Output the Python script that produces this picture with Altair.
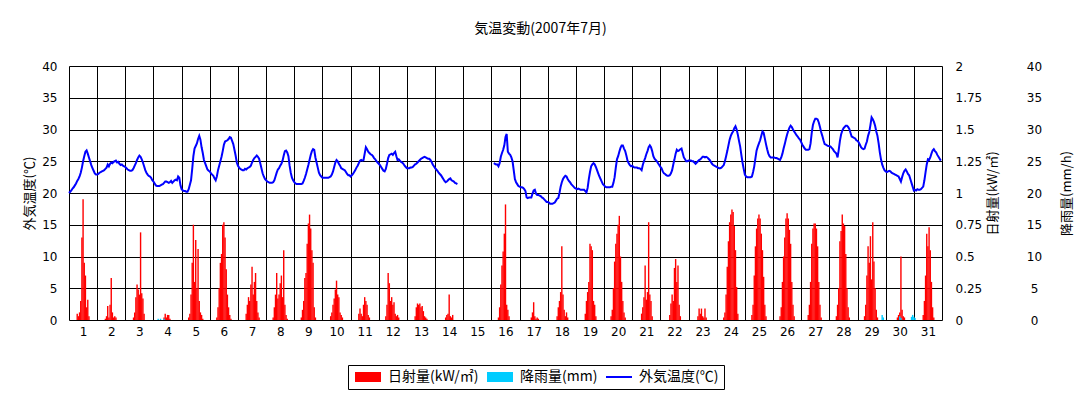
import altair as alt
import pandas as pd

TITLE = "気温変動(2007年7月)"
DAYS = list(range(1, 32))

# hourly outside temperature (°C), hour 0..23 of each day; None = missing
TEMP = {
    1: [20.0, 20.2, 20.4, 20.7, 20.9, 21.2, 21.5, 21.9, 22.2, 22.6, 23.2, 24.0, 25.0, 25.8, 26.5, 26.7, 26.2, 25.6, 25.0, 24.4, 23.9, 23.5, 23.1, 22.9],
    2: [22.9, 23.0, 23.2, 23.3, 23.4, 23.5, 23.6, 23.8, 24.0, 24.5, 24.2, 24.6, 24.8, 24.7, 24.9, 25.0, 25.1, 24.8, 24.9, 24.6, 24.4, 24.5, 24.3, 24.2],
    3: [24.1, 23.9, 23.7, 23.6, 23.5, 23.5, 23.6, 23.9, 24.3, 24.7, 25.2, 25.6, 25.9, 25.7, 25.3, 24.8, 24.2, 23.6, 23.2, 22.9, 22.7, 22.6, 22.4, 22.0],
    4: [21.8, 21.5, 21.2, 21.1, 21.1, 21.1, 21.2, 21.3, 21.4, 21.6, 21.8, 21.8, 21.7, 21.6, 21.7, 21.9, 21.6, 21.8, 22.0, 22.1, 22.0, 22.6, 22.4, 21.2],
    5: [20.6, 20.4, 20.3, 20.3, 20.2, 20.2, 20.6, 21.3, 22.0, 23.8, 25.8, 27.0, 27.4, 27.8, 28.5, 29.0, 28.4, 27.2, 26.3, 25.2, 24.7, 24.2, 23.7, 23.5],
    6: [23.4, 23.1, 22.9, 22.7, 22.3, 22.0, 22.6, 23.6, 24.3, 25.0, 25.7, 26.6, 27.6, 28.1, 28.2, 28.3, 28.5, 28.8, 28.7, 28.2, 27.7, 26.8, 25.9, 24.8],
    7: [24.3, 24.0, 23.8, 23.7, 23.6, 23.6, 23.8, 23.7, 23.9, 24.0, 24.1, 24.3, 24.8, 25.2, 25.5, 25.7, 25.9, 25.7, 25.4, 24.7, 23.9, 23.1, 22.6, 22.2],
    8: [22.0, 21.8, 21.7, 21.6, 21.6, 21.6, 21.7, 22.0, 22.6, 23.2, 23.7, 23.9, 24.3, 24.6, 25.1, 25.9, 26.6, 26.7, 26.4, 25.8, 24.3, 23.2, 22.4, 22.0],
    9: [21.7, 21.5, 21.4, 21.4, 21.4, 21.4, 21.4, 21.5, 21.9, 22.4, 23.0, 23.7, 24.4, 25.2, 26.0, 26.6, 26.9, 26.8, 25.6, 24.8, 24.0, 23.2, 22.8, 22.6],
    10: [22.4, 22.4, 22.4, 22.4, 22.4, 22.4, 22.5, 22.6, 22.9, 23.4, 24.1, 24.8, 25.2, 25.0, 24.6, 24.3, 23.9, 23.8, 23.7, 23.6, 23.3, 23.0, 22.8, 22.8],
    11: [22.6, 22.8, 23.0, 23.3, 23.6, 24.0, 24.3, 24.7, 25.1, 25.2, 25.1, 25.2, 26.2, 27.2, 26.9, 26.5, 26.3, 26.1, 26.0, 25.8, 25.5, 25.3, 25.0, 24.8],
    12: [24.6, 24.4, 24.1, 23.8, 23.5, 23.4, 23.8, 24.6, 25.5, 26.0, 26.1, 26.2, 26.0, 26.3, 26.5, 25.8, 25.2, 25.3, 25.1, 24.9, 24.8, 24.6, 24.3, 24.1],
    13: [23.9, 23.9, 23.9, 24.0, 24.0, 24.1, 24.3, 24.5, 24.6, 24.8, 25.0, 25.2, 25.4, 25.5, 25.6, 25.7, 25.6, 25.5, 25.4, 25.4, 25.2, 24.9, 24.5, 24.2],
    14: [23.9, 23.7, 23.5, 23.2, 23.0, 22.8, 22.5, 22.2, 21.9, 21.7, 21.8, 22.0, 22.2, 22.3, 22.0, 21.9, 21.8, 21.6, 21.5, 21.4, None, None, None, None],
    16: [None, None, 24.7, 24.6, 24.5, 24.5, 24.2, 24.7, 25.7, 26.3, 26.8, 27.5, 28.8, 29.3, 26.5, 26.2, 26.0, 25.6, 25.0, 23.6, 22.2, 21.7, 21.4, 21.1],
    17: [21.0, 20.9, 20.9, 20.8, 20.6, 20.3, 19.3, 19.2, 19.3, 19.3, 19.3, 19.9, 20.4, 20.5, 19.9, 19.7, 19.7, 19.6, 19.5, 19.3, 19.2, 19.0, 18.8, 18.6],
    18: [18.6, 18.5, 18.3, 18.3, 18.3, 18.4, 18.5, 18.8, 19.1, 19.2, 20.0, 21.0, 21.7, 22.2, 22.5, 22.7, 22.6, 22.2, 21.9, 21.7, 21.4, 21.2, 21.0, 20.8],
    19: [20.7, 20.6, 20.7, 20.6, 20.5, 20.5, 20.5, 20.5, 20.3, 20.1, 20.8, 22.2, 23.3, 24.2, 24.5, 24.7, 24.5, 24.1, 23.6, 23.1, 22.6, 22.2, 21.8, 21.4],
    20: [21.2, 21.0, 20.9, 20.9, 20.9, 20.9, 21.0, 21.0, 21.6, 22.5, 24.0, 25.3, 25.8, 26.5, 27.1, 27.5, 27.5, 27.0, 26.6, 25.9, 25.1, 24.7, 24.4, 24.2],
    21: [24.3, 24.1, 24.0, 24.0, 24.0, 23.9, 23.9, 23.8, 23.6, 24.4, 25.0, 25.5, 26.1, 26.6, 27.2, 27.5, 27.2, 26.6, 25.8, 25.4, 25.2, 25.0, 24.7, 24.4],
    22: [24.1, 23.9, 23.4, 23.1, 23.0, 22.8, 22.7, 22.7, 22.8, 23.1, 23.6, 24.5, 25.3, 26.2, 26.8, 26.6, 26.7, 26.9, 27.0, 26.3, 25.6, 25.3, 25.0, 25.0],
    23: [25.1, 25.1, 25.1, 25.0, 25.0, 24.8, 24.6, 24.8, 25.0, 25.2, 25.3, 25.5, 25.7, 25.7, 25.6, 25.7, 25.6, 25.4, 25.2, 24.9, 24.6, 24.4, 24.3, 24.2],
    24: [24.1, 24.0, 23.9, 23.9, 24.0, 24.2, 24.4, 25.0, 25.8, 26.6, 27.5, 28.4, 29.0, 29.4, 29.7, 30.2, 30.5, 30.0, 29.2, 28.2, 27.3, 26.0, 24.8, 23.8],
    25: [22.9, 22.6, 22.5, 22.5, 22.5, 22.5, 22.6, 23.3, 24.2, 25.5, 26.7, 27.3, 27.8, 28.3, 29.0, 29.7, 29.5, 28.6, 27.7, 26.9, 26.2, 25.8, 25.6, 25.6],
    26: [25.6, 25.6, 25.5, 25.5, 25.4, 25.3, 25.2, 25.6, 26.2, 27.0, 27.7, 28.5, 29.2, 29.8, 30.3, 30.6, 30.4, 30.0, 29.7, 29.4, 29.1, 28.9, 28.6, 28.4],
    27: [28.0, 27.6, 27.3, 27.0, 26.8, 26.8, 26.8, 26.9, 27.8, 29.5, 30.7, 31.3, 31.7, 31.7, 31.6, 31.1, 30.4, 29.6, 29.0, 28.3, 27.7, 27.6, 27.5, 27.4],
    28: [27.4, 27.3, 27.1, 26.9, 26.6, 26.4, 26.2, 25.6, 26.8, 28.2, 29.2, 29.8, 30.2, 30.4, 30.6, 30.6, 30.4, 30.1, 29.5, 28.9, 28.8, 28.7, 28.6, 28.3],
    29: [28.2, 28.0, 27.6, 27.2, 27.0, 26.9, 27.0, 27.6, 28.1, 29.0, 29.6, 30.7, 31.9, 31.6, 31.2, 30.6, 29.7, 29.0, 27.8, 26.4, 25.3, 24.5, 24.0, 23.6],
    30: [23.4, 23.3, 23.4, 23.5, 23.4, 23.2, 23.1, 23.0, 22.9, 22.8, 22.7, 22.6, 22.2, 21.8, 22.5, 23.1, 23.5, 23.7, 23.4, 23.0, 22.8, 22.2, 21.6, 21.0],
    31: [20.4, 20.5, 20.4, 20.6, 20.5, 20.5, 20.6, 20.8, 21.0, 22.0, 23.3, 24.5, 25.3, 25.2, 25.6, 26.2, 26.7, 26.9, 26.6, 26.4, 26.0, 25.7, 25.4, 25.1],
}

# hourly solar radiation (kW/m2): day -> (first hour, values)
SOLAR = {
    1: (7, [0.05, 0.03, 0.06, 0.15, 0.65, 0.95, 0.45, 0.35, 0.10, 0.16, 0.03]),
    2: (7, [0.01, 0.03, 0.11, 0.02, 0.12, 0.33, 0.06, 0.02, 0.03, 0.02]),
    3: (7, [0.02, 0.06, 0.18, 0.28, 0.24, 0.20, 0.69, 0.21, 0.17, 0.05]),
    4: (9, [0.02, 0.05, 0.02, 0.04, 0.04, 0.01]),
    5: (6, [0.02, 0.05, 0.20, 0.45, 0.75, 0.30, 0.63, 0.25, 0.56, 0.15, 0.06, 0.04, 0.01]),
    6: (6, [0.02, 0.10, 0.25, 0.45, 0.52, 0.75, 0.77, 0.65, 0.40, 0.20, 0.10, 0.04, 0.01]),
    7: (7, [0.05, 0.12, 0.18, 0.15, 0.28, 0.42, 0.20, 0.30, 0.37, 0.15, 0.06, 0.02]),
    8: (6, [0.02, 0.10, 0.20, 0.37, 0.17, 0.20, 0.29, 0.35, 0.18, 0.55, 0.12, 0.04, 0.01]),
    9: (6, [0.02, 0.08, 0.15, 0.33, 0.37, 0.60, 0.76, 0.83, 0.72, 0.55, 0.45, 0.10, 0.02]),
    10: (7, [0.03, 0.06, 0.12, 0.17, 0.24, 0.31, 0.20, 0.18, 0.06, 0.04, 0.02]),
    11: (7, [0.05, 0.09, 0.05, 0.03, 0.12, 0.18, 0.15, 0.12, 0.04, 0.02]),
    12: (6, [0.03, 0.12, 0.37, 0.29, 0.15, 0.18, 0.12, 0.14, 0.05, 0.03, 0.04, 0.02]),
    13: (7, [0.03, 0.10, 0.13, 0.12, 0.13, 0.10, 0.11, 0.07, 0.03, 0.02, 0.01]),
    14: (9, [0.02, 0.04, 0.05, 0.20, 0.03, 0.02, 0.04]),
    16: (6, [0.02, 0.10, 0.28, 0.43, 0.54, 0.68, 0.91, 0.12, 0.08, 0.03]),
    17: (10, [0.02, 0.06, 0.14, 0.03, 0.01, 0.02, 0.01]),
    18: (8, [0.03, 0.10, 0.15, 0.22, 0.58, 0.20, 0.08, 0.03, 0.06, 0.02]),
    19: (8, [0.05, 0.15, 0.22, 0.30, 0.60, 0.58, 0.55, 0.15, 0.12, 0.03]),
    20: (6, [0.03, 0.08, 0.25, 0.46, 0.60, 0.68, 0.75, 0.82, 0.50, 0.30, 0.15, 0.06, 0.02]),
    21: (8, [0.05, 0.10, 0.18, 0.43, 0.16, 0.22, 0.77, 0.20, 0.15, 0.03]),
    22: (8, [0.04, 0.13, 0.20, 0.15, 0.41, 0.48, 0.30, 0.43, 0.12, 0.03]),
    23: (8, [0.03, 0.09, 0.05, 0.09, 0.03, 0.02, 0.09, 0.02]),
    24: (6, [0.02, 0.06, 0.20, 0.42, 0.62, 0.77, 0.83, 0.87, 0.85, 0.74, 0.55, 0.26, 0.05]),
    25: (6, [0.04, 0.12, 0.35, 0.58, 0.72, 0.80, 0.83, 0.80, 0.68, 0.55, 0.34, 0.12, 0.03]),
    26: (6, [0.03, 0.10, 0.30, 0.50, 0.65, 0.80, 0.84, 0.80, 0.71, 0.60, 0.30, 0.12, 0.03]),
    27: (6, [0.04, 0.12, 0.30, 0.60, 0.72, 0.76, 0.76, 0.72, 0.58, 0.30, 0.12, 0.02]),
    28: (6, [0.03, 0.12, 0.25, 0.62, 0.70, 0.83, 0.76, 0.74, 0.52, 0.25, 0.10, 0.02]),
    29: (6, [0.03, 0.12, 0.35, 0.58, 0.45, 0.66, 0.32, 0.77, 0.46, 0.25, 0.08, 0.02]),
    30: (10, [0.02, 0.04, 0.06, 0.50, 0.08, 0.03, 0.02]),
    31: (8, [0.04, 0.15, 0.35, 0.68, 0.58, 0.73, 0.55, 0.30, 0.10, 0.02]),
}

# rainfall (mm/h)
RAIN_DAY = [4, 4, 4, 29, 29, 30, 30, 30, 30, 31, 31]
RAIN_HOUR = [4, 6, 9, 21, 22, 12, 13, 22, 23, 0, 1]
RAIN_MM = [0.2, 0.2, 0.2, 0.8, 0.4, 0.6, 0.3, 0.5, 0.8, 0.5, 0.3]

LEGEND_LABELS = ["日射量(kW/㎡)", "降雨量(mm)", "外気温度(℃)"]
LEGEND_COLORS = ["#ff0000", "#00ccff", "#0000ff"]
LEGEND_SHAPES = ["M-1,-1H4.2V1H-1Z", "M-1,-1H4.2V1H-1Z", "M-1,-0.2H4.2V0.2H-1Z"]

TEMP_TICKS = list(range(0, 41, 5))
SOLAR_TICKS = [0, 0.25, 0.5, 0.75, 1, 1.25, 1.5, 1.75, 2]
RAIN_TICKS = list(range(0, 41, 5))

# ---- tables ----
temp_rows = []
for d, vals in TEMP.items():
    for h, v in enumerate(vals):
        if v is None:
            continue
        temp_rows.append({"t": d - 1 + h / 24, "temp": v, "seg": "a" if d <= 14 else "b"})
temp_df = pd.DataFrame(temp_rows)

HALF = 0.6 / 24  # half bar width (slight overlap so the hourly bars read as solid)

solar_rows = []
for d, (h0, vals) in SOLAR.items():
    for i, v in enumerate(vals):
        t = d - 1 + (h0 + i) / 24
        solar_rows.append({"t": t - HALF, "t2": t + HALF, "kw": v})
solar_df = pd.DataFrame(solar_rows)

rain_rows = []
for d, h, v in zip(RAIN_DAY, RAIN_HOUR, RAIN_MM):
    t = d - 1 + h / 24
    rain_rows.append({"t": t - HALF, "t2": t + HALF, "mm": v})
rain_df = pd.DataFrame(rain_rows)

legend_df = pd.DataFrame({"series": LEGEND_LABELS})

JP = "Noto Sans CJK JP"
NUM = "DejaVu Sans"

x_values = [i * 0.5 for i in range(63)]
x_scale = alt.Scale(domain=[0, 31], nice=False, zero=False)
x_axis = alt.Axis(
    values=x_values,
    labelExpr="datum.value % 1 == 0.5 ? '' + (floor(datum.value) + 1) : ''",
    grid=True, gridColor="black", gridWidth=1,
    gridOpacity={"condition": {"test": "datum.value % 1 == 0", "value": 1}, "value": 0},
    ticks=False, domain=False, labelPadding=6, labelFont=NUM, labelFontSize=12,
    labelColor="black", labelOverlap=False, labelFlush=False, title=None,
)

solar = alt.Chart(solar_df).mark_bar(color="#ff0000").encode(
    x=alt.X("t:Q", scale=x_scale, axis=x_axis),
    x2="t2:Q",
    y=alt.Y("kw:Q", stack=None, scale=alt.Scale(domain=[0, 2], nice=False),
            axis=alt.Axis(orient="right", values=SOLAR_TICKS, labelExpr="'' + datum.value",
                          grid=False, ticks=False, domain=False, labelPadding=13,
                          labelFlush=False,
                          labelFont=NUM, labelFontSize=12, labelColor="black",
                          title="日射量(kW/㎡)", titleFont=JP, titleFontSize=13,
                          titleFontWeight="normal", titleColor="black", titleAngle=270,
                          titlePadding=18)),
    y2=alt.datum(0),
)

rain = alt.Chart(rain_df).mark_bar(color="#00ccff").encode(
    x=alt.X("t:Q", scale=x_scale, axis=x_axis),
    x2="t2:Q",
    y=alt.Y("mm:Q", stack=None, scale=alt.Scale(domain=[0, 40], nice=False),
            axis=alt.Axis(orient="right", offset=72, values=RAIN_TICKS,
                          grid=False, ticks=False, domain=False, labelPadding=20,
                          labelAlign="center", labelFlush=False,
                          labelFont=NUM, labelFontSize=12, labelColor="black",
                          title="降雨量(mm/h)", titleFont=JP, titleFontSize=13,
                          titleFontWeight="normal", titleColor="black", titleAngle=270,
                          titlePadding=32)),
    y2=alt.datum(0),
)

temp = alt.Chart(temp_df).mark_line(color="#0000ff", strokeWidth=2).encode(
    x=alt.X("t:Q", scale=x_scale, axis=x_axis),
    y=alt.Y("temp:Q", scale=alt.Scale(domain=[0, 40], nice=False),
            axis=alt.Axis(orient="left", values=TEMP_TICKS,
                          grid=True, gridColor="black", gridWidth=1, gridOpacity=1,
                          ticks=False, domain=False, labelPadding=12, labelFlush=False,
                          labelFont=NUM, labelFontSize=12, labelColor="black",
                          title="外気温度(℃)", titleFont=JP, titleFontSize=13,
                          titleFontWeight="normal", titleColor="black", titleAngle=270,
                          titlePadding=5)),
    detail="seg:N",
)

leg = alt.Legend(
    orient="none", legendX=279, legendY=299, direction="horizontal", title=None,
    strokeColor="black", padding=5, symbolSize=100, labelOffset=21, columnPadding=6,
    labelFont=JP, labelFontSize=14, labelColor="black", symbolStrokeWidth=0,
)
legend_pts = alt.Chart(legend_df).mark_point(filled=True, opacity=1).encode(
    color=alt.Color("series:N", scale=alt.Scale(domain=LEGEND_LABELS, range=LEGEND_COLORS), legend=leg),
    shape=alt.Shape("series:N", scale=alt.Scale(domain=LEGEND_LABELS, range=LEGEND_SHAPES), legend=leg),
).transform_filter("false")

chart = alt.layer(solar, rain, temp, legend_pts).resolve_scale(y="independent").properties(
    width=873, height=254,
    title=alt.TitleParams(TITLE, font=JP, fontSize=14, fontWeight="normal", color="black",
                          offset=24, dx=35),
    padding={"left": 61, "top": 58, "right": 132, "bottom": 77},
    autosize=alt.AutoSizeParams(type="none"),
).configure_view(stroke="black", strokeWidth=2).configure(background="white")

chart.save("out.html", embed_options={"renderer": "svg", "actions": False})
